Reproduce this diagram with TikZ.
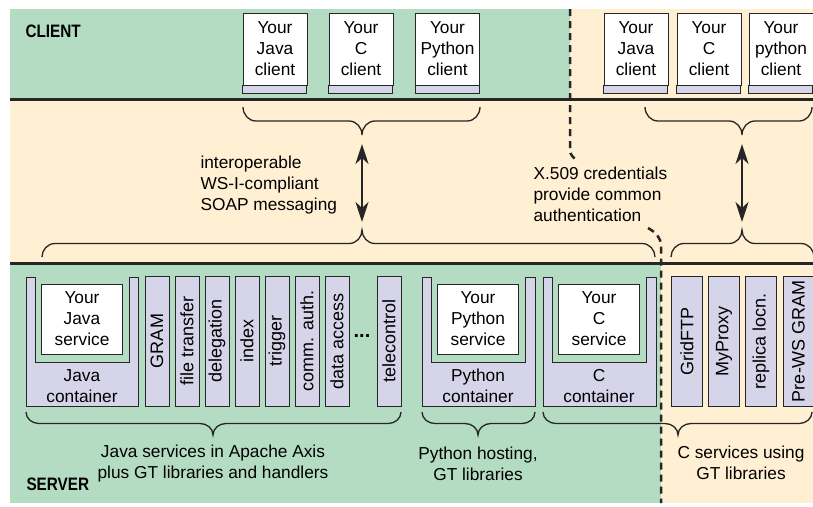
\documentclass[tikz,border=0pt]{standalone}
\usepackage{fontspec}
\setmainfont{Liberation Sans}
\newfontfamily\bandfont{Liberation Sans}[FakeStretch=0.85]
\usetikzlibrary{arrows.meta}
\definecolor{bandgreen}{RGB}{179,220,195}
\definecolor{bandsand}{RGB}{255,239,211}
\definecolor{lav}{RGB}{214,212,233}
\definecolor{ink}{RGB}{38,38,38}

% curly braces drawn by hand: x1, x2, x of tip, y of ends, y of tip, tip name
\newcommand{\bracedown}[6]{%
  \draw[brc] (#1,#4) to[out=-90,in=180] ({#1+13},{(#4+#5)/2}) -- ({#3-13},{(#4+#5)/2})
    to[out=0,in=90] (#3,#5) to[out=90,in=180] ({#3+13},{(#4+#5)/2}) -- ({#2-13},{(#4+#5)/2})
    to[out=0,in=-90] (#2,#4);
  \coordinate (#6) at (#3,#5);}
\newcommand{\braceup}[6]{%
  \draw[brc] (#1,#4) to[out=90,in=180] ({#1+13},{(#4+#5)/2}) -- ({#3-13},{(#4+#5)/2})
    to[out=0,in=-90] (#3,#5) to[out=-90,in=180] ({#3+13},{(#4+#5)/2}) -- ({#2-13},{(#4+#5)/2})
    to[out=0,in=90] (#2,#4);
  \coordinate (#6) at (#3,#5);}

\begin{document}
\begin{tikzpicture}[x=1pt,y=-1pt,
  font=\fontsize{17.3}{21}\selectfont,
  sep/.style={line width=3pt, ink},
  cred/.style={line width=2.5pt, ink, dash pattern=on 7pt off 5pt},
  brc/.style={line width=1.3pt, ink},
  dbl/.style={line width=2.4pt, ink, arrows={Stealth[length=20pt,width=13pt,inset=6pt]-Stealth[length=20pt,width=13pt,inset=6pt]}},
  clientbox/.style={draw=ink, line width=1pt, fill=white, align=center, minimum width=64pt, minimum height=72pt, inner sep=0pt},
  clientfoot/.style={draw=ink, line width=1pt, fill=lav},
  svcbox/.style={draw=ink, line width=1pt, fill=white, align=center, minimum width=81pt, minimum height=70pt, inner sep=0pt},
  cont/.style={draw=ink, line width=1pt, fill=lav},
  svcstrip/.style={draw=ink, line width=1pt, fill=lav, rotate=90, minimum width=130pt, minimum height=24pt, inner sep=0pt, font=\fontsize{18}{20}\selectfont},
  gtstrip/.style={svcstrip, minimum height=31pt},
  band/.style={font=\fontsize{18}{20}\selectfont\bandfont\bfseries, anchor=west},
  note/.style={align=center}]
  \useasboundingbox (0,0) rectangle (813,506);
  \clip (0,0) rectangle (813,506);

  % three bands, split by the trust boundary
  \fill[bandgreen] (10,9) rectangle (570,99);
  \fill[bandsand] (570,9) rectangle (813,99);
  \fill[bandsand] (10,99) rectangle (813,263);
  \fill[bandgreen] (10,263) rectangle (661,503);
  \fill[bandsand] (661,263) rectangle (813,503);
  \draw[sep] (10,99) -- (813,99);
  \draw[sep] (10,263) -- (813,263);
  \node[band] (clientlbl) at (22,31) {CLIENT};
  \node[band] (serverlbl) at (23,484) {SERVER};

  % clients
  \node[clientbox] (jcl) at (275,49) {Your\\Java\\client};
  \node[clientbox] (ccl) at (361,49) {Your\\C\\client};
  \node[clientbox] (pcl) at (447.5,49) {Your\\Python\\client};
  \node[clientbox] (jcl2) at (636,49) {Your\\Java\\client};
  \node[clientbox] (ccl2) at (709,49) {Your\\C\\client};
  \node[clientbox] (pcl2) at (781,49) {Your\\python\\client};
  \draw[clientfoot] (jcl.south west) rectangle ++(64,8); \draw[clientfoot] (ccl.south west) rectangle ++(64,8);
  \draw[clientfoot] (pcl.south west) rectangle ++(64,8); \draw[clientfoot] (jcl2.south west) rectangle ++(64,8);
  \draw[clientfoot] (ccl2.south west) rectangle ++(64,8); \draw[clientfoot] (pcl2.south west) rectangle ++(64,8);

  % containers
  \draw[cont] (26,277) -- (26,406) -- (138,406) -- (138,277) -- (129,277) -- (129,362) -- (35,362) -- (35,277) -- cycle;
  \draw[cont] (422,277) -- (422,406) -- (535,406) -- (535,277) -- (525.5,277) -- (525.5,362) -- (431.5,362) -- (431.5,277) -- cycle;
  \draw[cont] (543,277) -- (543,406) -- (656,406) -- (656,277) -- (646.5,277) -- (646.5,362) -- (552.5,362) -- (552.5,277) -- cycle;
  \node[svcbox] (jsvc) at (82,319) {Your\\Java\\service};
  \node[svcbox] (psvc) at (478,319) {Your\\Python\\service};
  \node[svcbox] (csvc) at (599,319) {Your\\C\\service};
  \node[note] (jcont) at (82,386) {Java\\container};
  \node[note] (pcont) at (478,386) {Python\\container};
  \node[note] (ccont) at (599,386) {C\\container};

  % Java services
  \node[svcstrip] (gram) at (157,341) {GRAM};
  \node[svcstrip] (ftrans) at (187,341) {file transfer};
  \node[svcstrip] (deleg) at (217,341) {delegation};
  \node[svcstrip] (index) at (247,341) {index};
  \node[svcstrip] (trig) at (277,341) {trigger};
  \node[svcstrip] (cas) at (307,341) {comm. auth.};
  \node[svcstrip] (dacc) at (337,341) {data access};
  \node[font=\fontsize{20}{20}\selectfont] (more) at (362,336) {\bfseries...};
  \node[svcstrip] (tele) at (389,341) {telecontrol};

  % C services
  \node[gtstrip] (gftp) at (687,341) {GridFTP};
  \node[gtstrip] (myp) at (724,341) {MyProxy};
  \node[gtstrip] (rls) at (761,341) {replica locn.};
  \node[gtstrip] (pwsg) at (798.5,341) {Pre-WS GRAM};

  % braces
  \bracedown{243}{480}{362}{107}{135}{ctop}
  \bracedown{645}{812}{742}{107}{135}{ctop2}
  \braceup{42}{655}{362}{257}{230}{sbot}
  \braceup{671}{814}{742}{257}{230}{sbot2}
  \bracedown{26}{401}{213}{412}{435}{jbr}
  \bracedown{422}{535}{478}{412}{435}{pbr}
  \bracedown{543}{812}{678}{412}{435}{cbr}

  % messaging
  \draw[dbl, shorten <=9pt, shorten >=8pt] (ctop) -- (sbot);
  \draw[dbl, shorten <=9pt, shorten >=8pt] (ctop2) -- (sbot2);
  \node[anchor=west, align=left] (soap) at (197,185) {interoperable\\WS-I-compliant\\SOAP messaging};
  \node[anchor=west, align=left] (x509) at (530,194) {X.509 credentials\\provide common\\authentication};

  % trust boundary
  \coordinate (credtop) at (570,9);
  \coordinate (credbot) at (661,503);
  \draw[cred] (credtop) -- (570,150) to[out=-90,in=135] (576,160);
  \draw[cred] (648,228) to[out=-30,in=90] (credbot |- 0,246) -- (credbot);

  \node[note] (javatxt) at (213,464) {Java services in Apache Axis\\plus GT libraries and handlers};
  \node[note] (pytxt) at (478,464) {Python hosting,\\GT libraries};
  \node[note] (ctxt) at (741,463) {C services using\\GT libraries};
\end{tikzpicture}
\end{document}
